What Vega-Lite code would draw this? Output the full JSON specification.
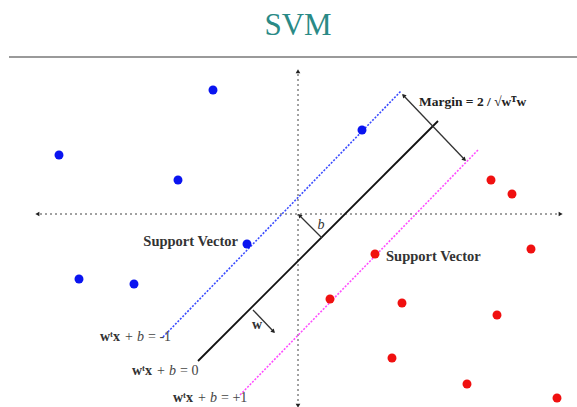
{
  "$schema": "https://vega.github.io/schema/vega-lite/v6.json",
  "width": 577,
  "height": 407,
  "padding": 0,
  "autosize": {"type": "none"},
  "background": "white",
  "config": {"view": {"stroke": null}},
  "encoding": {
    "x": {"type": "quantitative", "scale": {"domain": [0, 577], "nice": false, "zero": false}, "axis": null},
    "y": {"type": "quantitative", "scale": {"domain": [0, 407], "nice": false, "zero": false, "reverse": true}, "axis": null}
  },
  "layer": [
    {
      "data": {"values": [{"x1": 9, "y1": 57, "x2": 577, "y2": 57}]},
      "mark": {"type": "rule", "color": "#9a9a9a", "strokeWidth": 2.2},
      "encoding": {"x": {"field": "x1"}, "y": {"field": "y1"}, "x2": {"field": "x2"}, "y2": {"field": "y2"}}
    },
    {
      "data": {"values": [{"x1": 40, "y1": 214, "x2": 558, "y2": 214}, {"x1": 298, "y1": 74, "x2": 298, "y2": 404}]},
      "mark": {"type": "rule", "color": "#444444", "strokeWidth": 1, "strokeDash": [2, 3]},
      "encoding": {"x": {"field": "x1"}, "y": {"field": "y1"}, "x2": {"field": "x2"}, "y2": {"field": "y2"}}
    },
    {
      "data": {"values": [{"x1": 163, "y1": 337, "x2": 401, "y2": 91}]},
      "mark": {"type": "rule", "color": "#3a4cff", "strokeWidth": 1.6, "strokeDash": [2, 1.5]},
      "encoding": {"x": {"field": "x1"}, "y": {"field": "y1"}, "x2": {"field": "x2"}, "y2": {"field": "y2"}}
    },
    {
      "data": {"values": [{"x1": 240, "y1": 395, "x2": 478, "y2": 150}]},
      "mark": {"type": "rule", "color": "#ff4dff", "strokeWidth": 1.6, "strokeDash": [2, 1.5]},
      "encoding": {"x": {"field": "x1"}, "y": {"field": "y1"}, "x2": {"field": "x2"}, "y2": {"field": "y2"}}
    },
    {
      "data": {"values": [{"x1": 198, "y1": 361, "x2": 438, "y2": 121}]},
      "mark": {"type": "rule", "color": "#111111", "strokeWidth": 1.8},
      "encoding": {"x": {"field": "x1"}, "y": {"field": "y1"}, "x2": {"field": "x2"}, "y2": {"field": "y2"}}
    },
    {
      "data": {"values": [
        {"x1": 403, "y1": 95, "x2": 465, "y2": 160},
        {"x1": 300, "y1": 216, "x2": 322, "y2": 238},
        {"x1": 253, "y1": 310, "x2": 274, "y2": 332}
      ]},
      "mark": {"type": "rule", "color": "#333333", "strokeWidth": 1.3},
      "encoding": {"x": {"field": "x1"}, "y": {"field": "y1"}, "x2": {"field": "x2"}, "y2": {"field": "y2"}}
    },
    {
      "data": {"values": [
        {"x": 38, "y": 214, "heading": 270},
        {"x": 560, "y": 214, "heading": 90},
        {"x": 298, "y": 72, "heading": 0},
        {"x": 298, "y": 405, "heading": 180},
        {"x": 464, "y": 159, "heading": 136},
        {"x": 404, "y": 96, "heading": 316},
        {"x": 300, "y": 216, "heading": 315},
        {"x": 273, "y": 331, "heading": 136}
      ]},
      "mark": {"type": "point", "shape": "triangle", "filled": true, "color": "#222222", "size": 22, "opacity": 1},
      "encoding": {"x": {"field": "x"}, "y": {"field": "y"}, "angle": {"field": "heading", "type": "quantitative", "scale": null}}
    },
    {
      "data": {"values": [
        {"x": 213, "y": 90, "cls": "-1"},
        {"x": 59, "y": 155, "cls": "-1"},
        {"x": 178, "y": 180, "cls": "-1"},
        {"x": 362, "y": 130, "cls": "-1"},
        {"x": 247, "y": 244, "cls": "-1"},
        {"x": 79, "y": 279, "cls": "-1"},
        {"x": 134, "y": 284, "cls": "-1"},
        {"x": 491, "y": 180, "cls": "+1"},
        {"x": 512, "y": 194, "cls": "+1"},
        {"x": 531, "y": 249, "cls": "+1"},
        {"x": 375, "y": 254, "cls": "+1"},
        {"x": 330, "y": 299, "cls": "+1"},
        {"x": 402, "y": 303, "cls": "+1"},
        {"x": 497, "y": 315, "cls": "+1"},
        {"x": 392, "y": 358, "cls": "+1"},
        {"x": 467, "y": 384, "cls": "+1"},
        {"x": 557, "y": 398, "cls": "+1"}
      ]},
      "mark": {"type": "circle", "size": 80, "opacity": 1},
      "encoding": {
        "x": {"field": "x"}, "y": {"field": "y"},
        "color": {"field": "cls", "type": "nominal", "scale": {"domain": ["-1", "+1"], "range": ["#0a14f0", "#f01010"]}, "legend": null}
      }
    },
    {
      "data": {"values": [{"x": 298, "y": 26, "t": "SVM"}]},
      "mark": {"type": "text", "font": "Liberation Serif", "fontSize": 31, "color": "#2a8a86", "align": "center", "baseline": "middle"},
      "encoding": {"x": {"field": "x"}, "y": {"field": "y"}, "text": {"field": "t"}}
    },
    {
      "data": {"values": [{"x": 419, "y": 102, "t": "Margin = 2 / √wᵀw"}]},
      "mark": {"type": "text", "font": "Liberation Serif", "fontSize": 13.5, "fontWeight": "bold", "color": "#222222", "align": "left", "baseline": "middle"},
      "encoding": {"x": {"field": "x"}, "y": {"field": "y"}, "text": {"field": "t"}}
    },
    {
      "data": {"values": [{"x": 386, "y": 257, "t": "Support Vector"}]},
      "mark": {"type": "text", "font": "Liberation Serif", "fontSize": 14.5, "fontWeight": "bold", "color": "#333333", "align": "left", "baseline": "middle"},
      "encoding": {"x": {"field": "x"}, "y": {"field": "y"}, "text": {"field": "t"}}
    },
    {
      "data": {"values": [{"x": 238, "y": 242, "t": "Support Vector"}]},
      "mark": {"type": "text", "font": "Liberation Serif", "fontSize": 14.5, "fontWeight": "bold", "color": "#333333", "align": "right", "baseline": "middle"},
      "encoding": {"x": {"field": "x"}, "y": {"field": "y"}, "text": {"field": "t"}}
    },
    {
      "data": {"values": [
        {"x": 100, "y": 337, "t": "wᵗx"},
        {"x": 132, "y": 371, "t": "wᵗx"},
        {"x": 173, "y": 398, "t": "wᵗx"},
        {"x": 252, "y": 325, "t": "w"}
      ]},
      "mark": {"type": "text", "font": "Liberation Serif", "fontSize": 14, "fontWeight": "bold", "color": "#333333", "align": "left", "baseline": "middle"},
      "encoding": {"x": {"field": "x"}, "y": {"field": "y"}, "text": {"field": "t"}}
    },
    {
      "data": {"values": [
        {"x": 125, "y": 337, "t": "+"},
        {"x": 148, "y": 337, "t": "= -1"},
        {"x": 157, "y": 371, "t": "+"},
        {"x": 180, "y": 371, "t": "= 0"},
        {"x": 198, "y": 398, "t": "+"},
        {"x": 221, "y": 398, "t": "= +1"}
      ]},
      "mark": {"type": "text", "font": "Liberation Serif", "fontSize": 14, "color": "#444444", "align": "left", "baseline": "middle"},
      "encoding": {"x": {"field": "x"}, "y": {"field": "y"}, "text": {"field": "t"}}
    },
    {
      "data": {"values": [
        {"x": 137, "y": 337, "t": "b"},
        {"x": 169, "y": 371, "t": "b"},
        {"x": 210, "y": 398, "t": "b"}
      ]},
      "mark": {"type": "text", "font": "Liberation Serif", "fontSize": 14, "fontStyle": "italic", "color": "#444444", "align": "left", "baseline": "middle"},
      "encoding": {"x": {"field": "x"}, "y": {"field": "y"}, "text": {"field": "t"}}
    },
    {
      "data": {"values": [{"x": 321, "y": 225, "t": "b"}]},
      "mark": {"type": "text", "font": "Liberation Serif", "fontSize": 14, "fontStyle": "italic", "color": "#333333", "align": "center", "baseline": "middle"},
      "encoding": {"x": {"field": "x"}, "y": {"field": "y"}, "text": {"field": "t"}}
    }
  ]
}
